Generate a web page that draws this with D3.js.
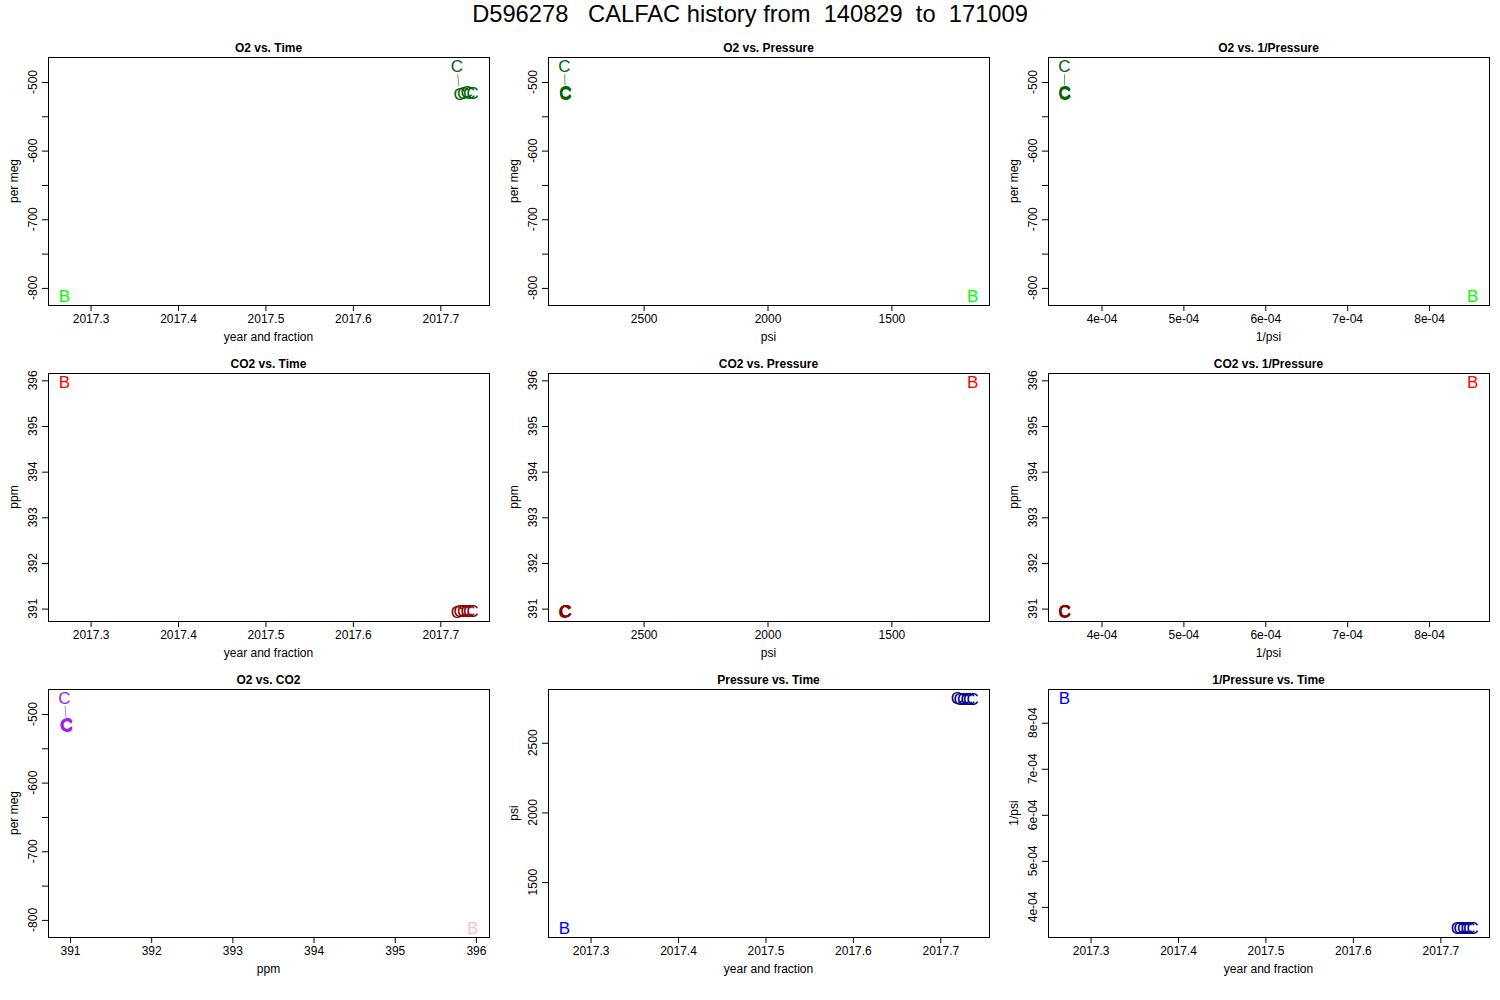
<!DOCTYPE html>
<html>
<head>
<meta charset="utf-8">
<script src="https://cdn.jsdelivr.net/npm/d3@7"></script>
<style>
body { margin: 0; background: #fff; }
text { font-family: "Liberation Sans", Arial, sans-serif; }
</style>
</head>
<body>
<svg id="chart"></svg>
<script>
width = 1500
height = 1000

// flask data
let cylinder = "D596278"
let dateFrom = "140829"
let dateTo = "171009"

let bTime = [2017.270]
let bO2 = [-811.5]
let bCO2 = [395.96]
let bPsi = [1172]

let cTime = [2017.719, 2017.722, 2017.726, 2017.730, 2017.733, 2017.737]
let cO2 = [-477, -517, -516, -515, -516, -516]
let cCO2 = [390.93, 390.96, 390.95, 390.96, 390.95, 390.96]
let cPsi = [2820, 2816, 2815, 2816, 2815, 2815]

// tick values
let timeTicks = [2017.3, 2017.4, 2017.5, 2017.6, 2017.7]
let o2Ticks = [-800, -750, -700, -650, -600, -550, -500]
let o2Labels = [-800, -700, -600, -500]
let co2Ticks = [391, 392, 393, 394, 395, 396]
let psiTicks = [1500, 2000, 2500]
let invPsiTicks = [4e-4, 5e-4, 6e-4, 7e-4, 8e-4]

let bInv = bPsi.map(p => 1 / p)
let cInv = cPsi.map(p => 1 / p)

let vars = {
	time: {b: bTime, c: cTime, ticks: timeTicks, label: "year and fraction", fmt: d => d3.format(".1f")(d)},
	o2: {b: bO2, c: cO2, ticks: o2Ticks, labels: o2Labels, label: "per meg", fmt: d => d},
	co2: {b: bCO2, c: cCO2, ticks: co2Ticks, label: "ppm", fmt: d => d},
	psi: {b: bPsi, c: cPsi, ticks: psiTicks, label: "psi", fmt: d => d, reverse: true},
	inv: {b: bInv, c: cInv, ticks: invPsiTicks, label: "1/psi", fmt: d => Math.round(d * 1e4) + "e-04"}
}

let panels = [
	{title: "O2 vs. Time", x: "time", y: "o2", colB: "#00ff00", colC: "#006400"},
	{title: "O2 vs. Pressure", x: "psi", y: "o2", colB: "#00ff00", colC: "#006400"},
	{title: "O2 vs. 1/Pressure", x: "inv", y: "o2", colB: "#00ff00", colC: "#006400"},
	{title: "CO2 vs. Time", x: "time", y: "co2", colB: "#ff0000", colC: "#8b0000"},
	{title: "CO2 vs. Pressure", x: "psi", y: "co2", colB: "#ff0000", colC: "#8b0000"},
	{title: "CO2 vs. 1/Pressure", x: "inv", y: "co2", colB: "#ff0000", colC: "#8b0000"},
	{title: "O2 vs. CO2", x: "co2", y: "o2", colB: "#ffc0cb", colC: "#a020f0"},
	{title: "Pressure vs. Time", x: "time", y: "psi", colB: "#0000ff", colC: "#00008b"},
	{title: "1/Pressure vs. Time", x: "time", y: "inv", colB: "#0000ff", colC: "#00008b"}
]

let colLeft = [48, 548, 1048]
let rowTop = [57, 373, 689]
let pw = 441
let ph = 248

let svg = d3.select("#chart")
.attr("width", width)
.attr("height", height)

svg.append("text")
.attr("x", 750)
.attr("y", 22)
.attr("text-anchor", "middle")
.attr("font-size", 23.7)
.style("white-space", "pre")
.attr("xml:space", "preserve")
.text(cylinder + "   CALFAC history from  " + dateFrom + "  to  " + dateTo)

function rDomain(v) {
	let all = v.b.concat(v.c)
	let lo = d3.min(all), hi = d3.max(all)
	let pad = (hi - lo) * 0.04
	return [lo - pad, hi + pad]
}

panels.forEach((p, i) => {
	let left = colLeft[i % 3]
	let top = rowTop[Math.floor(i / 3)]
	let vx = vars[p.x]
	let vy = vars[p.y]

	let dx = rDomain(vx)
	if (vx.reverse) dx = dx.reverse()
	let x = d3.scaleLinear().domain(dx).range([left, left + pw])
	let y = d3.scaleLinear().domain(rDomain(vy)).range([top + ph, top])

	let g = svg.append("g")

	g.append("text")
	.attr("x", left + pw / 2)
	.attr("y", top - 5)
	.attr("text-anchor", "middle")
	.attr("font-size", 12)
	.attr("font-weight", "bold")
	.text(p.title)

	// x axis
	let xa = g.append("g")
	.attr("transform", "translate(0," + (top + ph) + ")")
	.call(d3.axisBottom(x).tickValues(vx.ticks).tickSize(6).tickPadding(3).tickFormat(vx.fmt))
	xa.select(".domain").remove()
	xa.selectAll("text").attr("font-size", 12).attr("font-family", "Liberation Sans, Arial, sans-serif")
	xa.selectAll("line").attr("stroke", "#000")

	g.append("text")
	.attr("x", left + pw / 2)
	.attr("y", top + ph + 36)
	.attr("text-anchor", "middle")
	.attr("font-size", 12)
	.text(vx.label)

	// y axis
	let labelled = vy.labels || vy.ticks
	let ya = g.append("g")
	.attr("transform", "translate(" + left + ",0)")
	.call(d3.axisLeft(y).tickValues(vy.ticks).tickSize(6).tickFormat(""))
	ya.select(".domain").remove()
	ya.selectAll("line").attr("stroke", "#000")

	g.selectAll(".ylab")
	.data(labelled)
	.join("text")
	.attr("class", "ylab")
	.attr("transform", d => "translate(" + (left - 11) + "," + y(d) + ") rotate(-90)")
	.attr("text-anchor", "middle")
	.attr("font-size", 12)
	.text(vy.fmt)

	g.append("text")
	.attr("transform", "translate(" + (left - 30) + "," + (top + ph / 2) + ") rotate(-90)")
	.attr("text-anchor", "middle")
	.attr("font-size", 12)
	.text(vy.label)

	// box
	g.append("rect")
	.attr("x", left + 0.5)
	.attr("y", top + 0.5)
	.attr("width", pw)
	.attr("height", ph)
	.attr("fill", "none")
	.attr("stroke", "#000")
	.attr("stroke-width", 1)

	// type "b": lines between points with gaps around the letters
	let cpts = vx.c.map((xv, k) => [x(xv), y(vy.c[k])])
	let gap = 8
	for (let k = 1; k < cpts.length; k++) {
		let [x0, y0] = cpts[k - 1]
		let [x1, y1] = cpts[k]
		let d = Math.hypot(x1 - x0, y1 - y0)
		if (d <= 2 * gap) continue
		let ux = (x1 - x0) / d, uy = (y1 - y0) / d
		g.append("line")
		.attr("x1", x0 + ux * gap).attr("y1", y0 + uy * gap)
		.attr("x2", x1 - ux * gap).attr("y2", y1 - uy * gap)
		.attr("stroke", p.colC)
		.attr("stroke-opacity", 0.6)
		.attr("stroke-width", 1)
	}

	g.selectAll(".cpt")
	.data(cpts)
	.join("text")
	.attr("class", "cpt")
	.attr("x", d => d[0])
	.attr("y", d => d[1])
	.attr("dy", "0.36em")
	.attr("text-anchor", "middle")
	.attr("font-size", 17)
	.attr("fill", p.colC)
	.text("C")

	g.selectAll(".bpt")
	.data(vx.b.map((xv, k) => [x(xv), y(vy.b[k])]))
	.join("text")
	.attr("class", "bpt")
	.attr("x", d => d[0])
	.attr("y", d => d[1])
	.attr("dy", "0.36em")
	.attr("text-anchor", "middle")
	.attr("font-size", 17)
	.attr("fill", p.colB)
	.text("B")
})
</script>
</body>
</html>
